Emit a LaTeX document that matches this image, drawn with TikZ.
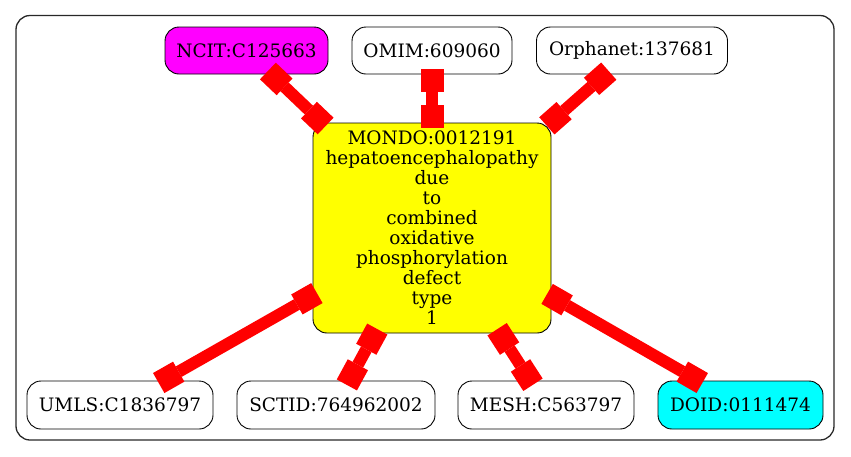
\documentclass[tikz,border=0pt]{standalone}
\usepackage{fontspec}
\setmainfont{DejaVu Serif}
\usetikzlibrary{arrows.meta}
\definecolor{gvmagenta}{RGB}{255,0,255}
\definecolor{gvyellow}{RGB}{255,255,0}
\definecolor{gvcyan}{RGB}{0,255,255}
\definecolor{gvred}{RGB}{255,0,0}
\definecolor{gvframe}{RGB}{40,40,40}
\begin{document}
\begin{tikzpicture}[x=1pt,y=-1pt,
  term/.style={draw=black,line width=0.9pt,rounded corners=14pt,inner sep=0pt,
    minimum height=47pt,font=\fontsize{18.5}{20}\selectfont,align=center},
  boxtip/.tip={Square[length=23pt,width=23pt,line width=0pt]},
  link/.style={draw=gvred,line width=12pt,boxtip-boxtip,
    shorten <=-5pt,shorten >=-5pt}]
\useasboundingbox (0,0) rectangle (851,456);
\draw[gvframe,line width=1.3pt,rounded corners=14pt] (16,15.5) rectangle (834,440);
\node[term,fill=gvmagenta,minimum width=163pt] (ncit) at (246.5,50.5) {NCIT:C125663};
\node[term,fill=white,minimum width=160pt] (omim) at (432,50.5) {OMIM:609060};
\node[term,fill=white,minimum width=191pt] (orpha) at (632,50.5) {Orphanet:137681};
\node[term,fill=gvyellow,minimum width=238pt,minimum height=210pt] (mondo) at (432,228)
  {MONDO:0012191\\hepatoencephalopathy\\due\\to\\combined\\oxidative\\phosphorylation\\defect\\type\\1};
\node[term,fill=white,minimum width=186pt,minimum height=48pt] (umls) at (120,405) {UMLS:C1836797};
\node[term,fill=white,minimum width=198pt,minimum height=48pt] (sctid) at (336,405) {SCTID:764962002};
\node[term,fill=white,minimum width=176pt,minimum height=48pt] (mesh) at (546,405) {MESH:C563797};
\node[term,fill=gvcyan,minimum width=165pt,minimum height=48pt] (doid) at (740.5,405) {DOID:0111474};
\draw[link] (mondo) -- (ncit);
\draw[link] (mondo) -- (omim);
\draw[link] (mondo) -- (orpha);
\draw[link] (mondo) -- (umls);
\draw[link] (mondo) -- (sctid);
\draw[link] (mondo) -- (mesh);
\draw[link] (mondo) -- (doid);
\end{tikzpicture}
\end{document}
